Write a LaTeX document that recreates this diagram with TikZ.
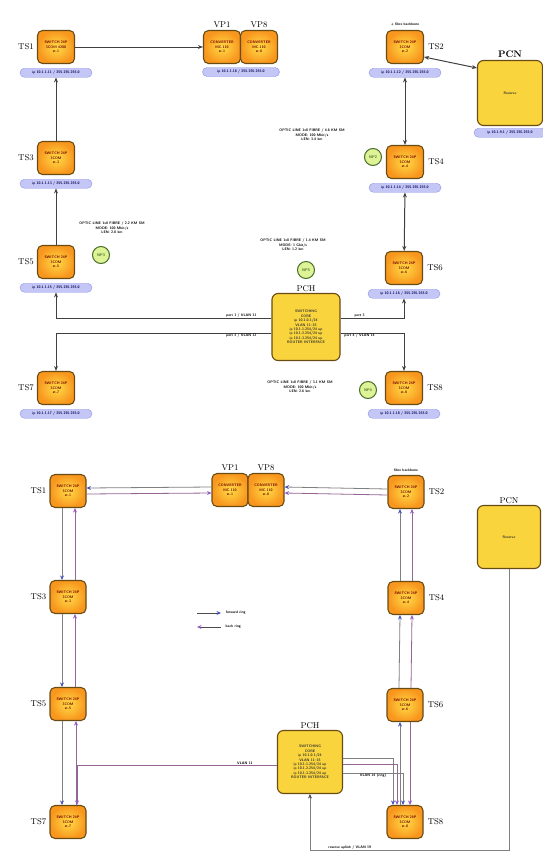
\documentclass[tikz,border=0pt]{standalone}
\usepackage{tikz}
\usetikzlibrary{arrows.meta, positioning, calc}

\definecolor{swedge}{RGB}{105,75,20}
\definecolor{swin}{RGB}{255,220,70}
\definecolor{swout}{RGB}{248,150,30}
\definecolor{pcfill}{RGB}{250,212,60}
\definecolor{pillfill}{RGB}{196,198,246}
\definecolor{pilledge}{RGB}{140,148,232}
\definecolor{npfill}{RGB}{222,242,150}
\definecolor{npedge}{RGB}{70,110,40}
\definecolor{fwd}{RGB}{70,85,190}
\definecolor{bwd}{RGB}{150,90,200}

\begin{document}
\begin{tikzpicture}[
    x=1pt, y=-1pt,
    swbox/.style={rectangle, draw=swedge, line width=1.1pt, rounded corners=5pt,
      inner color=swin, outer color=swout, minimum width=37pt, minimum height=33pt,
      inner sep=1pt, align=center, font=\fontsize{3.6}{4.4}\selectfont\sffamily\bfseries, text=red!45!black},
    pcbox/.style={rectangle, draw=swedge, line width=1.1pt, rounded corners=6pt,
      fill=pcfill, minimum width=65pt, minimum height=65pt,
      inner sep=1pt, align=center, font=\fontsize{3.6}{4.4}\selectfont\sffamily\bfseries, text=black!80},
    pill/.style={rectangle, draw=pilledge, fill=pillfill, rounded corners=4.5pt,
      minimum width=72pt, minimum height=9pt, inner sep=0.5pt,
      font=\fontsize{3.6}{4}\selectfont\sffamily\bfseries, text=blue!30!black},
    npc/.style={circle, draw=npedge, line width=1pt, fill=npfill, minimum size=17pt,
      inner sep=0pt, font=\fontsize{3.8}{4}\selectfont\sffamily\bfseries, text=npedge},
    tag/.style={font=\fontsize{8.5}{9}\selectfont, inner sep=1pt},
    note/.style={align=center, font=\fontsize{3.6}{4.4}\selectfont\sffamily\bfseries, inner sep=0.5pt},
    link/.style={-{Stealth[length=5pt, width=4pt]}, line width=1pt, draw=black!75},
    dlink/.style={{Stealth[length=5pt, width=4pt]}-{Stealth[length=5pt, width=4pt]}, line width=1pt, draw=black!75},
    fline/.style={-{Stealth[length=4.5pt, width=4pt, color=fwd]}, line width=0.8pt, draw=black!50},
    bline/.style={-{Stealth[length=4.5pt, width=4pt, color=bwd]}, line width=0.8pt, draw=black!40!violet!60},
    plain/.style={line width=0.7pt, draw=black!50}
  ]
    \useasboundingbox (0,0) rectangle (542,857);

    % ---------- upper scheme ----------
    \node[swbox] (ts1) at (56,47) {SWITCH 24P\\3COM 4200\\st.1};
    \node[swbox] (vp1) at (222,47) {CONVERTER\\MC-110\\st.1};
    \node[swbox] (vp8) at (259,47) {CONVERTER\\MC-110\\st.8};
    \node[swbox] (ts2) at (405,47) {SWITCH 24P\\3COM\\st.2};
    \node[pcbox] (pcn) at (510,93) {Reserve};
    \node[swbox] (ts3) at (56,158) {SWITCH 24P\\3COM\\st.3};
    \node[swbox] (ts4) at (405,162) {SWITCH 24P\\3COM\\st.4};
    \node[swbox] (ts5) at (56,262) {SWITCH 24P\\3COM\\st.5};
    \node[swbox] (ts6) at (404,268) {SWITCH 24P\\3COM\\st.6};
    \node[pcbox, minimum width=68pt, minimum height=67pt] (pch) at (306,327)
      {SWITCHING\\CORE\\ip 10.1.0.1/24\\VLAN 11--15\\ip 10.1.1.254/24 up\\ip 10.1.2.254/24 up\\ip 10.1.3.254/24 up\\ROUTER INTERFACE};
    \node[swbox] (ts7) at (56,388) {SWITCH 24P\\3COM\\st.7};
    \node[swbox] (ts8) at (404,388) {SWITCH 24P\\3COM\\st.8};

    % address pills
    \node[pill, below=4pt of ts1] (p1) {ip 10.1.1.11 / 255.255.255.0};
    \node[pill, minimum width=77pt] (pvp) at (241,72) {ip 10.1.1.18 / 255.255.255.0};
    \node[pill, below=4pt of ts2] (p2) {ip 10.1.1.12 / 255.255.255.0};
    \node[pill, below=2pt of pcn] (ppcn) {ip 10.1.9.1 / 255.255.255.0};
    \node[pill, below=4pt of ts3] (p3) {ip 10.1.1.13 / 255.255.255.0};
    \node[pill, below=4pt of ts4] (p4) {ip 10.1.1.14 / 255.255.255.0};
    \node[pill, below=4pt of ts5] (p5) {ip 10.1.1.15 / 255.255.255.0};
    \node[pill, below=4pt of ts6] (p6) {ip 10.1.1.16 / 255.255.255.0};
    \node[pill, below=4pt of ts7] (p7) {ip 10.1.1.17 / 255.255.255.0};
    \node[pill, below=4pt of ts8] (p8) {ip 10.1.1.18 / 255.255.255.0};

    % station tags
    \node[tag, left=2pt of ts1] {TS1};
    \node[tag, left=2pt of ts3] {TS3};
    \node[tag, left=2pt of ts5] {TS5};
    \node[tag, left=2pt of ts7] {TS7};
    \node[tag, right=3pt of ts2] {TS2};
    \node[tag, right=3pt of ts4] {TS4};
    \node[tag, right=3pt of ts6] {TS6};
    \node[tag, right=3pt of ts8] {TS8};
    \node[tag, above=1pt of vp1] {VP1};
    \node[tag, above=1pt of vp8] {VP8};
    \node[tag, above=1pt of pcn, font=\fontsize{9.5}{10}\selectfont\bfseries] {PCN};
    \node[tag, above=0pt of pch] (pchtag) {PCH};
    \node[note, above=3pt of ts2] {+ fibre backbone};

    % node points and line notes
    \node[npc] (np3) at (101,255) {NP3};
    \node[npc] (np2) at (373,157) {NP2};
    \node[npc] (np5) at (306,270) {NP5};
    \node[npc] (np4) at (368,390) {NP4};
    \node[note] (n3) at (112,228) {OPTIC LINE 1x8 FIBRE / 2.2 KM SM\\MODE: 100 Mbit/s\\LEN: 2.8 km};
    \node[note] (n2) at (312,135) {OPTIC LINE 1x8 FIBRE / 4.6 KM SM\\MODE: 100 Mbit/s\\LEN: 3.4 km};
    \node[note] (n5) at (293,245) {OPTIC LINE 1x8 FIBRE / 1.4 KM SM\\MODE: 1 Gbit/s\\LEN: 1.2 km};
    \node[note] (n4) at (300,387) {OPTIC LINE 1x8 FIBRE / 3.1 KM SM\\MODE: 100 Mbit/s\\LEN: 2.6 km};

    % upper links
    \draw[link] (ts1) -- (vp1);
    \draw[link] (ts3) -- (p1);
    \draw[link] (ts5) -- (p3);
    \draw[dlink] ([yshift=-10pt]ts2.east) -- ([yshift=25pt]pcn.west);
    \draw[dlink] (p2) -- (ts4);
    \draw[dlink] (p4) -- (ts6);
    \draw[link] ([yshift=9pt]pch.west) -| node[pos=0.07, above, note] {port 1 / VLAN 11} (p5);
    \draw[link] ([yshift=-6pt]pch.west) -| node[pos=0.07, below, note] {port 2 / VLAN 12} (ts7);
    \draw[link] ([yshift=9pt]pch.east) -| node[pos=0.15, above, note] {port 3} (p6);
    \draw[link] ([yshift=-6pt]pch.east) -| node[pos=0.15, below, note] {port 4 / VLAN 14} (ts8);

    % ---------- lower scheme ----------
    \tikzset{swbox/.append style={minimum width=36pt}}
    \node[swbox] (ts1b) at (68,491) {SWITCH 24P\\3COM\\st.1};
    \node[swbox] (vp1b) at (230,490) {CONVERTER\\MC-110\\st.1};
    \node[swbox] (vp8b) at (266,490) {CONVERTER\\MC-110\\st.8};
    \node[swbox] (ts2b) at (406,492) {SWITCH 24P\\3COM\\st.2};
    \node[pcbox, minimum width=63pt, minimum height=63pt] (pcnb) at (509,537) {Reserve};
    \node[swbox] (ts3b) at (68,597) {SWITCH 24P\\3COM\\st.3};
    \node[swbox] (ts4b) at (406,598) {SWITCH 24P\\3COM\\st.4};
    \node[swbox] (ts5b) at (68,704) {SWITCH 24P\\3COM\\st.5};
    \node[swbox] (ts6b) at (405,705) {SWITCH 24P\\3COM\\st.6};
    \node[pcbox, minimum width=65pt, minimum height=63pt] (pchb) at (310,762)
      {SWITCHING\\CORE\\ip 10.1.0.1/24\\VLAN 11--15\\ip 10.1.1.254/24 up\\ip 10.1.2.254/24 up\\ip 10.1.3.254/24 up\\ROUTER INTERFACE};
    \node[swbox] (ts7b) at (68,822) {SWITCH 24P\\3COM\\st.7};
    \node[swbox] (ts8b) at (405,822) {SWITCH 24P\\3COM\\st.8};

    \node[tag, left=2pt of ts1b] {TS1};
    \node[tag, left=2pt of ts3b] {TS3};
    \node[tag, left=2pt of ts5b] {TS5};
    \node[tag, left=2pt of ts7b] {TS7};
    \node[tag, right=3pt of ts2b] {TS2};
    \node[tag, right=3pt of ts4b] {TS4};
    \node[tag, right=3pt of ts6b] {TS6};
    \node[tag, right=3pt of ts8b] {TS8};
    \node[tag, above=1pt of vp1b] {VP1};
    \node[tag, above=1pt of vp8b] {VP8};
    \node[tag, above=0pt of pcnb] {PCN};
    \node[tag, above=0pt of pchb] {PCH};
    \node[note, above=3pt of ts2b] {fibre backbone};

    % legend
    \coordinate (lg1) at (197,613);
    \coordinate (lg2) at (221,613);
    \coordinate (lg3) at (221,627);
    \coordinate (lg4) at (197,627);
    \draw[fline, draw=black!70] (lg1) -- (lg2) node[right=4pt, note] {forward ring};
    \draw[bline, draw=black!70] (lg3) -- (lg4);
    \node[note, right=4pt of lg3] {back ring};

    % ring links
    \draw[fline] ([yshift=3pt]vp1b.west) -- ([yshift=3pt]ts1b.east);
    \draw[bline] ([yshift=-3pt]ts1b.east) -- ([yshift=-3pt]vp1b.west);
    \draw[fline] ([yshift=3pt]ts2b.west) -- ([yshift=3pt]vp8b.east);
    \draw[bline] ([yshift=-3pt]ts2b.west) -- ([yshift=-3pt]vp8b.east);

    \draw[fline] ([xshift=-6pt]ts1b.south) -- ([xshift=-6pt]ts3b.north);
    \draw[bline] ([xshift=7pt]ts3b.north) -- ([xshift=7pt]ts1b.south);
    \draw[fline] ([xshift=-6pt]ts3b.south) -- ([xshift=-6pt]ts5b.north);
    \draw[bline] ([xshift=7pt]ts5b.north) -- ([xshift=7pt]ts3b.south);
    \draw[fline] ([xshift=-6pt]ts5b.south) -- ([xshift=-6pt]ts7b.north);
    \draw[bline] ([xshift=8pt]ts7b.north) -- ([xshift=8pt]ts5b.south);

    \draw[fline] ([xshift=-6pt]ts4b.north) -- ([xshift=-6pt]ts2b.south);
    \draw[bline] ([xshift=6pt]ts4b.north) -- ([xshift=6pt]ts2b.south);
    \draw[fline] ([xshift=-6pt]ts6b.north) -- ([xshift=-6pt]ts4b.south);
    \draw[bline] ([xshift=6pt]ts6b.north) -- ([xshift=6pt]ts4b.south);
    \draw[fline] ([xshift=-5pt]ts8b.north) -- ([xshift=-5pt]ts6b.south);
    \draw[bline] ([xshift=5pt]ts6b.south) -- ([xshift=5pt]ts8b.north);

    % core links
    \draw[bline] ([yshift=-3pt]pchb.west) -| node[pos=0.08, above, note] {VLAN 11} ([xshift=9pt]ts7b.north);
    \draw[fline] ([yshift=4pt]pchb.east) -| ([xshift=-12pt]ts8b.north);
    \draw[bline] ([yshift=-2pt]pchb.east) -| ([xshift=-8pt]ts8b.north);
    \draw[fline] ([yshift=-11pt]pchb.east) -| node[pos=0.25, below, note] {VLAN 14 (ring)} ([xshift=-2pt]ts8b.north);

    \coordinate (loop) at (0,850);
    \draw[plain, -{Stealth[length=4.5pt, width=4pt, color=black!70]}]
      (pcnb.south) -- (pcnb.south |- loop) -| node[pos=0.4, above, note] {reserve uplink / VLAN 19} (pchb.south);
  \end{tikzpicture}
\end{document}
